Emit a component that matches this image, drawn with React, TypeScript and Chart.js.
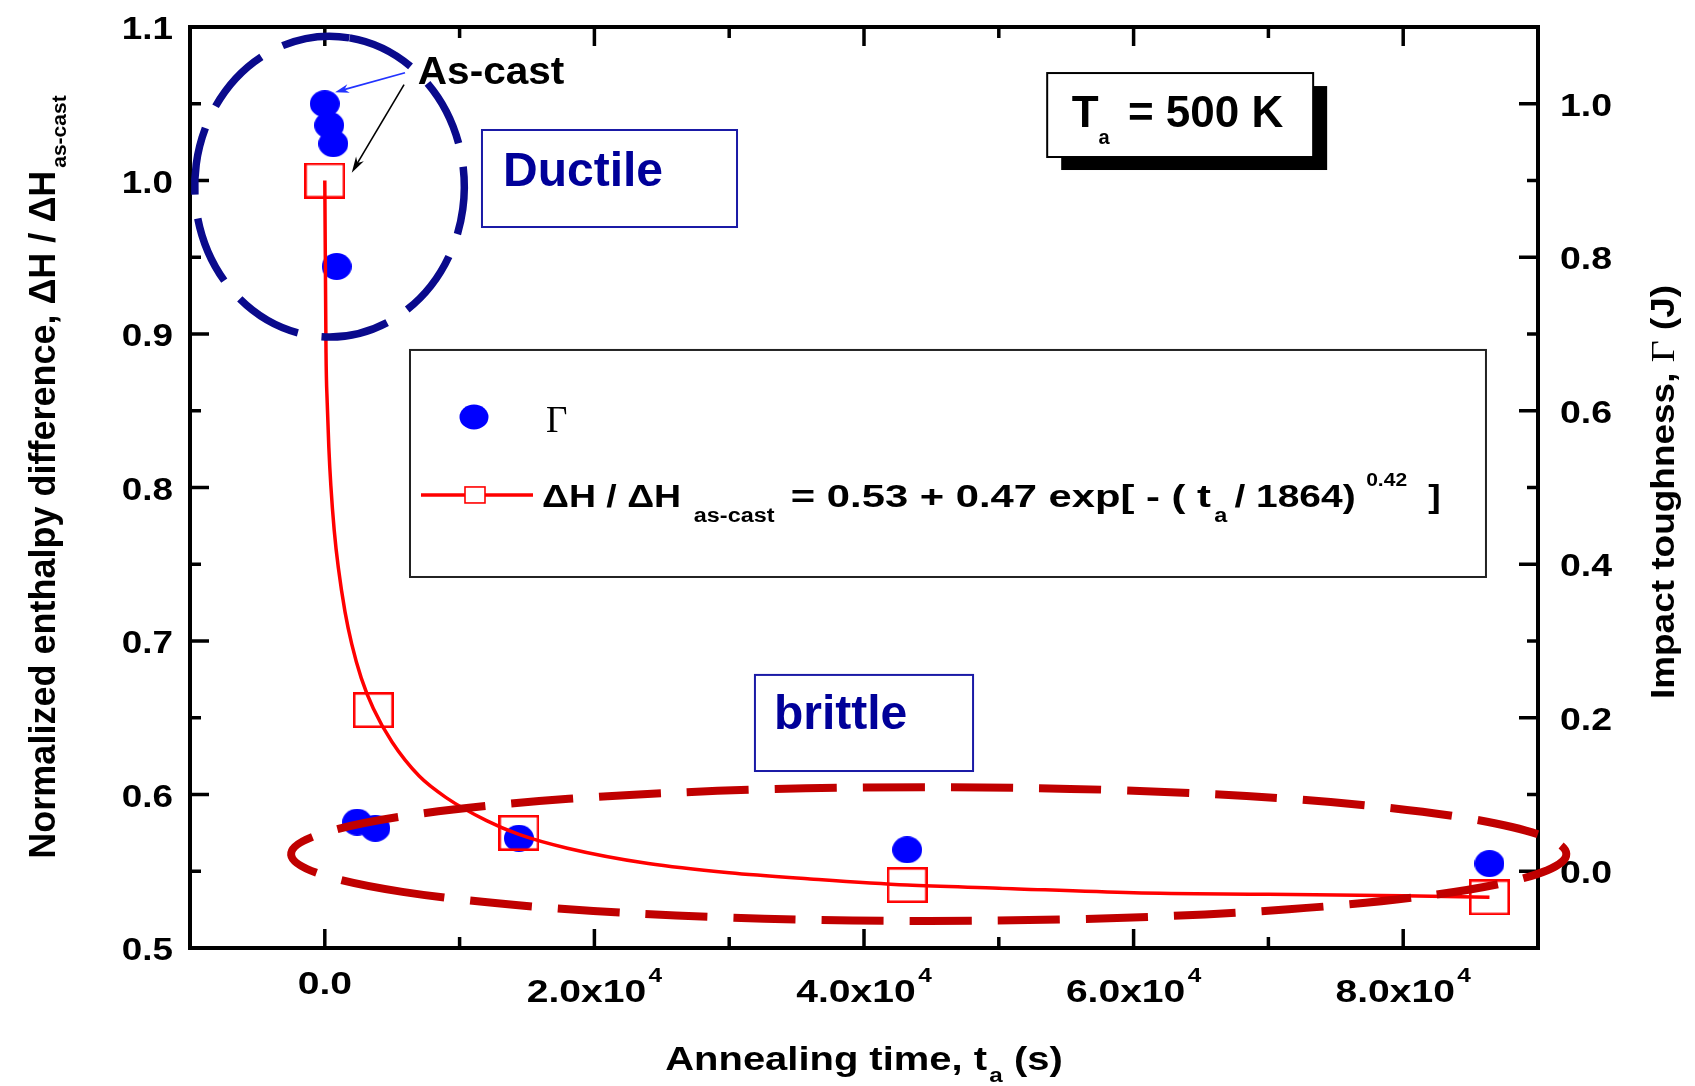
import React, { useEffect, useRef } from 'react';
import { Chart, registerables } from 'chart.js';

Chart.register(...registerables);

// ---------------- values ----------------
// impact toughness Γ (right axis) vs annealing time (s)
const gammaTimes = [0, 330, 630, 880, 2400, 3750, 14400, 43200, 86400];
const gammaValues = [1.0, 0.972, 0.948, 0.788, 0.064, 0.056, 0.043, 0.028, 0.01];
// normalized enthalpy difference (left axis) vs annealing time (s)
const enthalpyTimes = [0, 3600, 14400, 43200, 86400];
const enthalpyValues = [1.0, 0.655, 0.575, 0.541, 0.533];
// fitted curve, points
const fitTimes = [0, 90, 180, 300, 450, 700, 1000, 1500, 2000, 2700, 3600, 5000, 7000, 9000, 12000, 14400, 18000, 24000, 30000, 36000, 43200, 50000, 60000, 70000, 80000, 86400];
const fitValues = [1.0, 0.888, 0.855, 0.826, 0.801, 0.772, 0.748, 0.719, 0.698, 0.676, 0.656, 0.634, 0.612, 0.598, 0.583, 0.574, 0.565, 0.555, 0.549, 0.545, 0.541, 0.539, 0.536, 0.535, 0.534, 0.533];

// axes
const xRange = [-10000, 90000];
const leftRange = [0.5, 1.1];
const rightRange = [-0.1, 1.1];
const xMajorTicks = [0, 20000, 40000, 60000, 80000];
const xTickLabels = ['0.0', '2.0x10', '4.0x10', '6.0x10', '8.0x10'];
const xTickExponents = ['', '4', '4', '4', '4'];
const xMinorTicks = [10000, 30000, 50000, 70000];
const leftMajorTicks = [0.5, 0.6, 0.7, 0.8, 0.9, 1.0, 1.1];
const leftTickLabels = ['0.5', '0.6', '0.7', '0.8', '0.9', '1.0', '1.1'];
const leftMinorTicks = [0.55, 0.65, 0.75, 0.85, 0.95, 1.05];
const rightMajorTicks = [0, 0.2, 0.4, 0.6, 0.8, 1.0];
const rightTickLabels = ['0.0', '0.2', '0.4', '0.6', '0.8', '1.0'];
const rightMinorTicks = [0.1, 0.3, 0.5, 0.7, 0.9];

// ---------------- styles ----------------
const SANS = '"Liberation Sans", Arial, sans-serif';
const SERIF = '"Liberation Serif", "Times New Roman", serif';
const BLUE = '#0000ff';
const RED = '#ff0000';
const NAVY = '#0a0a8c';
const DARKRED = '#c00000';
const LABELBLUE = '#000099';
const BOXBLUE = '#1a1aa6';

type Seg = { t: string; font: string; dy?: number; gap?: number; sx?: number };

function drawRich(
  ctx: CanvasRenderingContext2D,
  segs: Seg[],
  x: number,
  y: number,
  align: 'left' | 'center' | 'right' = 'left',
  rot = 0,
  stretch = 1,
  color = '#000'
) {
  ctx.save();
  ctx.translate(x, y);
  if (rot) ctx.rotate(rot);
  if (stretch !== 1) ctx.scale(stretch, 1);
  ctx.fillStyle = color;
  ctx.textAlign = 'left';
  ctx.textBaseline = 'alphabetic';
  let total = 0;
  const widths = segs.map((s) => {
    ctx.font = s.font;
    const w = ctx.measureText(s.t).width * (s.sx || 1);
    total += w + (s.gap || 0);
    return w;
  });
  let cx = align === 'left' ? 0 : align === 'center' ? -total / 2 : -total;
  segs.forEach((s, i) => {
    cx += s.gap || 0;
    ctx.font = s.font;
    ctx.save();
    ctx.translate(cx, s.dy || 0);
    if (s.sx) ctx.scale(s.sx, 1);
    ctx.fillText(s.t, 0, 0);
    ctx.restore();
    cx += widths[i];
  });
  ctx.restore();
}

function drawArrow(
  ctx: CanvasRenderingContext2D,
  x1: number, y1: number, x2: number, y2: number,
  color: string, lw: number, headLen: number, headW: number
) {
  const ang = Math.atan2(y2 - y1, x2 - x1);
  const c = Math.cos(ang), s = Math.sin(ang);
  const bx = x2 - headLen * c, by = y2 - headLen * s;
  ctx.save();
  ctx.strokeStyle = color;
  ctx.fillStyle = color;
  ctx.lineWidth = lw;
  ctx.beginPath();
  ctx.moveTo(x1, y1);
  ctx.lineTo(x2 - headLen * 0.6 * c, y2 - headLen * 0.6 * s);
  ctx.stroke();
  ctx.beginPath();
  ctx.moveTo(x2, y2);
  ctx.lineTo(bx + headW * s, by - headW * c);
  ctx.lineTo(x2 - headLen * 0.7 * c, y2 - headLen * 0.7 * s);
  ctx.lineTo(bx - headW * s, by + headW * c);
  ctx.closePath();
  ctx.fill();
  ctx.restore();
}

function makeDot(w: number, h: number, color: string) {
  const c = document.createElement('canvas');
  c.width = w;
  c.height = h;
  const g = c.getContext('2d')!;
  g.fillStyle = color;
  g.beginPath();
  g.ellipse(w / 2, h / 2, w / 2, h / 2, 0, 0, Math.PI * 2);
  g.fill();
  return c;
}

function makeSquare(w: number, h: number, lw: number, color: string) {
  const c = document.createElement('canvas');
  c.width = w;
  c.height = h;
  const g = c.getContext('2d')!;
  g.strokeStyle = color;
  g.lineWidth = lw;
  g.strokeRect(lw / 2, lw / 2, w - lw, h - lw);
  return c;
}

// annotation layout, in data units (time, left-axis value)
const asCastAnchor = [6900, 1.063];
const blueArrowPts = [[5950, 1.0702], [760, 1.0575]];
const blackArrowPts = [[5880, 1.0625], [2000, 1.0051]];
const ductileBox = [11660, 1.0329, 30580, 0.9697];
const ductileText = [13220, 0.9964];
const brittleBox = [31910, 0.6779, 48090, 0.6153];
const brittleText = [33320, 0.6427];
const tempBox = [53590, 1.07, 73320, 1.0153];
const tempText = [55410, 1.035];
const legendBox = [6320, 0.8896, 86140, 0.7417];
const ductileRing = { t: 350, v: 0.996, rt: 10000, rv: 0.098 };
const brittleRing = { t: 44800, v: 0.5612, rt: 47300, rv: 0.0436 };

const decorPlugin = {
  id: 'decor',
  afterDraw(chart: any) {
    const { ctx, chartArea: a, scales } = chart;
    const xs = scales.x, ys = scales.y, yr = scales.yR;
    const X = (t: number) => xs.getPixelForValue(t);
    const Y = (v: number) => ys.getPixelForValue(v);
    const YR = (v: number) => yr.getPixelForValue(v);
    ctx.save();

    // frame
    ctx.strokeStyle = '#000';
    ctx.lineWidth = 4;
    ctx.strokeRect(a.left, a.top, a.right - a.left, a.bottom - a.top);

    // ticks (inward)
    ctx.lineWidth = 3.5;
    const seg = (x1: number, y1: number, x2: number, y2: number) => {
      ctx.beginPath();
      ctx.moveTo(x1, y1);
      ctx.lineTo(x2, y2);
      ctx.stroke();
    };
    const MAJ = 19, MIN = 11;
    xMajorTicks.forEach((v) => { const x = X(v); seg(x, a.bottom, x, a.bottom - MAJ); seg(x, a.top, x, a.top + MAJ); });
    xMinorTicks.forEach((v) => { const x = X(v); seg(x, a.bottom, x, a.bottom - MIN); seg(x, a.top, x, a.top + MIN); });
    leftMajorTicks.forEach((v) => { const y = Y(v); seg(a.left, y, a.left + MAJ, y); });
    leftMinorTicks.forEach((v) => { const y = Y(v); seg(a.left, y, a.left + MIN, y); });
    rightMajorTicks.forEach((v) => { const y = YR(v); seg(a.right, y, a.right - MAJ, y); });
    rightMinorTicks.forEach((v) => { const y = YR(v); seg(a.right, y, a.right - MIN, y); });

    // tick labels
    const tickFont = `bold 32px ${SANS}`;
    leftMajorTicks.forEach((v, i) =>
      drawRich(ctx, [{ t: leftTickLabels[i], font: tickFont }], a.left - 17, Y(v) + 12, 'right', 0, 1.15));
    rightMajorTicks.forEach((v, i) =>
      drawRich(ctx, [{ t: rightTickLabels[i], font: tickFont }], a.right + 22, YR(v) + 12, 'left', 0, 1.17));
    xMajorTicks.forEach((v, i) => {
      const segs: Seg[] = [{ t: xTickLabels[i], font: `bold 32px ${SANS}` }];
      if (xTickExponents[i]) segs.push({ t: xTickExponents[i], font: `bold 20px ${SANS}`, dy: -20, gap: 2 });
      drawRich(ctx, segs, X(v), a.bottom + (xTickExponents[i] ? 54 : 46), 'center', 0, 1.22);
    });

    // axis titles
    drawRich(ctx, [
      { t: 'Normalized enthalpy difference, ΔH / ΔH', font: `bold 36px ${SANS}` },
      { t: 'as-cast', font: `bold 21px ${SANS}`, dy: 11, gap: 3 },
    ], a.left - 135, a.top + 450, 'center', -Math.PI / 2);
    drawRich(ctx, [
      { t: 'Annealing time, t', font: `bold 33px ${SANS}` },
      { t: 'a', font: `bold 20px ${SANS}`, dy: 12, gap: 2 },
      { t: ' (s)', font: `bold 33px ${SANS}` },
    ], (a.left + a.right) / 2, a.bottom + 122, 'center', 0, 1.21);
    drawRich(ctx, [
      { t: 'Impact toughness, ', font: `bold 33px ${SANS}` },
      { t: 'Γ', font: `34px ${SERIF}` },
      { t: ' (J)', font: `bold 33px ${SANS}` },
    ], a.right + 136, a.top + 465, 'center', -Math.PI / 2, 1.12);

    // legend
    const lx = X(legendBox[0]), ly = Y(legendBox[1]);
    const lw = X(legendBox[2]) - lx, lh = Y(legendBox[3]) - ly;
    ctx.fillStyle = '#fff';
    ctx.fillRect(lx, ly, lw, lh);
    ctx.strokeStyle = '#222';
    ctx.lineWidth = 2;
    ctx.strokeRect(lx, ly, lw, lh);
    ctx.fillStyle = BLUE;
    ctx.beginPath();
    ctx.ellipse(lx + 64, ly + 67, 14.5, 12.5, 0, 0, Math.PI * 2);
    ctx.fill();
    drawRich(ctx, [{ t: 'Γ', font: `37px ${SERIF}` }], lx + 136, ly + 82, 'left');
    ctx.strokeStyle = RED;
    ctx.lineWidth = 3.5;
    seg(lx + 11, ly + 145, lx + 123, ly + 145);
    ctx.lineWidth = 1.6;
    ctx.fillStyle = '#fff';
    ctx.fillRect(lx + 55, ly + 137, 20, 16);
    ctx.strokeRect(lx + 55, ly + 137, 20, 16);
    drawRich(ctx, [
      { t: 'ΔH / ΔH ', font: `bold 32px ${SANS}` },
      { t: 'as-cast', font: `bold 20px ${SANS}`, dy: 15, gap: 2 },
      { t: '= 0.53 + 0.47 exp[ - ( t', font: `bold 32px ${SANS}`, gap: 14, sx: 1.115 },
      { t: 'a', font: `bold 20px ${SANS}`, dy: 15, gap: 3 },
      { t: '/ 1864)', font: `bold 32px ${SANS}`, gap: 6, sx: 1.04 },
      { t: '0.42', font: `bold 18px ${SANS}`, dy: -21, gap: 9 },
      { t: ']', font: `bold 32px ${SANS}`, gap: 18 },
    ], lx + 132, ly + 157, 'left', 0, 1.17);

    // Ductile / brittle boxes
    const box = (b: number[], color: string) => {
      const x = X(b[0]), y = Y(b[1]);
      ctx.strokeStyle = color;
      ctx.lineWidth = 2;
      ctx.strokeRect(x, y, X(b[2]) - x, Y(b[3]) - y);
    };
    box(ductileBox, BOXBLUE);
    box(brittleBox, BOXBLUE);
    drawRich(ctx, [{ t: 'Ductile', font: `bold 48px ${SANS}` }], X(ductileText[0]), Y(ductileText[1]), 'left', 0, 1, LABELBLUE);
    drawRich(ctx, [{ t: 'brittle', font: `bold 48px ${SANS}` }], X(brittleText[0]), Y(brittleText[1]), 'left', 0, 1, LABELBLUE);

    // temperature box with shadow
    {
      const x = X(tempBox[0]), y = Y(tempBox[1]);
      const w = X(tempBox[2]) - x, h = Y(tempBox[3]) - y;
      ctx.fillStyle = '#000';
      ctx.fillRect(x + 14, y + 13, w, h);
      ctx.fillStyle = '#fff';
      ctx.fillRect(x, y, w, h);
      ctx.strokeStyle = '#000';
      ctx.lineWidth = 2;
      ctx.strokeRect(x, y, w, h);
      drawRich(ctx, [
        { t: 'T', font: `bold 44px ${SANS}` },
        { t: 'a', font: `bold 20px ${SANS}`, dy: 17 },
        { t: ' = 500 K', font: `bold 44px ${SANS}`, gap: 6 },
      ], X(tempText[0]), Y(tempText[1]), 'left');
    }

    // As-cast label and arrows
    drawRich(ctx, [{ t: 'As-cast', font: `bold 39px ${SANS}` }], X(asCastAnchor[0]), Y(asCastAnchor[1]), 'left', 0, 1.04);
    drawArrow(ctx, X(blueArrowPts[0][0]), Y(blueArrowPts[0][1]), X(blueArrowPts[1][0]), Y(blueArrowPts[1][1]), '#2233ff', 1.8, 14, 4.5);
    drawArrow(ctx, X(blackArrowPts[0][0]), Y(blackArrowPts[0][1]), X(blackArrowPts[1][0]), Y(blackArrowPts[1][1]), '#000', 1.6, 16, 4.5);

    // dashed rings
    ctx.setLineDash([68, 24]);
    ctx.strokeStyle = NAVY;
    ctx.lineWidth = 7.5;
    ctx.beginPath();
    ctx.ellipse(X(ductileRing.t), Y(ductileRing.v), X(ductileRing.t + ductileRing.rt) - X(ductileRing.t),
      Y(ductileRing.v - ductileRing.rv) - Y(ductileRing.v), 0, -Math.PI / 2 + 0.15, Math.PI * 1.5 + 0.15);
    ctx.stroke();

    ctx.setLineDash([62, 26]);
    ctx.strokeStyle = DARKRED;
    ctx.lineWidth = 8;
    ctx.beginPath();
    ctx.ellipse(X(brittleRing.t), Y(brittleRing.v), X(brittleRing.t + brittleRing.rt) - X(brittleRing.t),
      Y(brittleRing.v - brittleRing.rv) - Y(brittleRing.v), 0, Math.PI - 0.6, Math.PI * 3 - 0.6);
    ctx.stroke();
    ctx.setLineDash([]);

    ctx.restore();
  },
};

export default function App() {
  const ref = useRef<HTMLCanvasElement>(null);
  useEffect(() => {
    const canvas = ref.current!;
    const dotImg = makeDot(30, 27, BLUE);
    const sqImg = makeSquare(41, 36, 2.6, RED);
    const hiddenAxis = {
      ticks: { display: false },
      grid: { display: false },
      border: { display: false },
    };
    const chart = new Chart(canvas, {
      type: 'scatter',
      data: {
        datasets: [
          {
            label: 'fit',
            data: fitTimes.map((t, i) => ({ x: t, y: fitValues[i] })),
            yAxisID: 'y',
            showLine: true,
            borderColor: RED,
            borderWidth: 3.5,
            pointRadius: 0,
            cubicInterpolationMode: 'monotone',
            order: 0,
          },
          {
            label: 'ΔH / ΔH as-cast',
            data: enthalpyTimes.map((t, i) => ({ x: t, y: enthalpyValues[i] })),
            yAxisID: 'y',
            pointStyle: sqImg,
            pointRadius: 18,
            order: 1,
          },
          {
            label: 'Γ',
            data: gammaTimes.map((t, i) => ({ x: t, y: gammaValues[i] })),
            yAxisID: 'yR',
            pointStyle: dotImg,
            pointRadius: 14,
            order: 2,
          },
        ],
      },
      options: {
        animation: false,
        responsive: false,
        devicePixelRatio: 1,
        events: [],
        layout: { padding: 0 },
        plugins: { legend: { display: false }, tooltip: { enabled: false } },
        scales: {
          x: {
            type: 'linear', axis: 'x', position: 'bottom', min: xRange[0], max: xRange[1], ...hiddenAxis,
            afterFit: (s: any) => { s.height = 138; },
          },
          x2: {
            type: 'linear', axis: 'x', position: 'top', min: xRange[0], max: xRange[1], ...hiddenAxis,
            afterFit: (s: any) => { s.height = 27; },
          },
          y: {
            type: 'linear', axis: 'y', position: 'left', min: leftRange[0], max: leftRange[1], ...hiddenAxis,
            afterFit: (s: any) => { s.width = 190; },
          },
          yR: {
            type: 'linear', axis: 'y', position: 'right', min: rightRange[0], max: rightRange[1], ...hiddenAxis,
            afterFit: (s: any) => { s.width = 157; },
          },
        },
      } as any,
      plugins: [decorPlugin],
    });
    return () => chart.destroy();
  }, []);
  return (
    <div style={{ position: 'absolute', left: 0, top: 0, width: 1695, height: 1086, background: '#fff' }}>
      <canvas ref={ref} width={1695} height={1086} style={{ display: 'block', width: 1695, height: 1086 }} />
    </div>
  );
}
